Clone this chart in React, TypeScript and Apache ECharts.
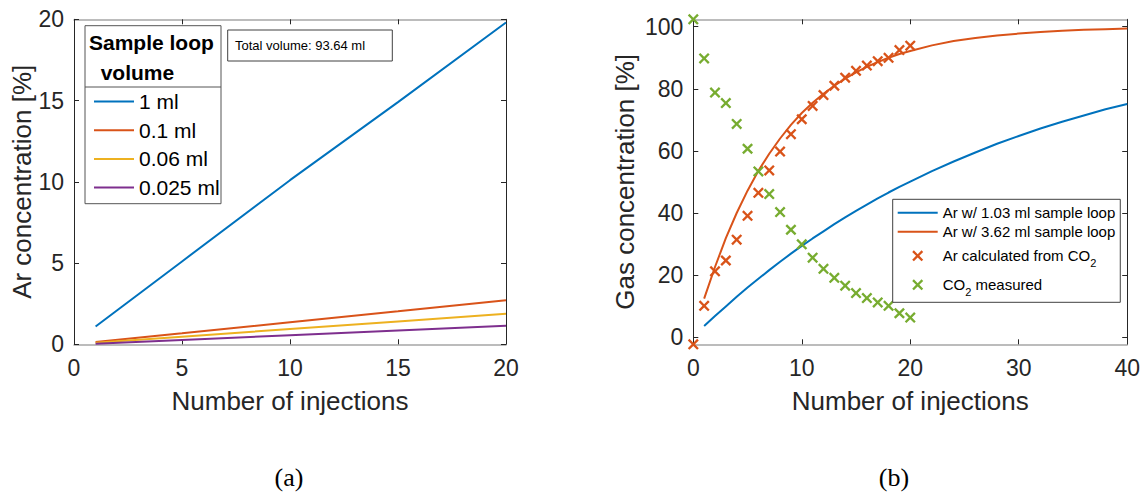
import React, { useEffect, useRef } from 'react';
import * as echarts from 'echarts';

// ---------- data ----------
const leftInjections = [1, 5, 10, 15, 20];
const loop1ml = [1.1, 5.1, 10.1, 14.9, 19.8];
const loop01ml = [0.14, 0.68, 1.36, 2.03, 2.71];
const loop006ml = [0.09, 0.47, 0.94, 1.41, 1.88];
const loop0025ml = [0.04, 0.27, 0.56, 0.85, 1.14];

const curveInjections = [1, 2, 3, 4, 5, 6, 7, 8, 9, 10, 11, 12, 13, 14, 15, 16, 17, 18, 19, 20, 22, 24, 26, 28, 30, 32, 34, 36, 38, 40];
const ar103 = [3.6, 6.8, 9.9, 13.0, 16.0, 18.8, 21.6, 24.3, 26.9, 29.4, 31.8, 34.1, 36.4, 38.6, 40.7, 42.7, 44.7, 46.6, 48.4, 50.1, 53.5, 56.6, 59.5, 62.3, 64.8, 67.2, 69.4, 71.4, 73.4, 75.1];
const ar362 = [12.4, 22.6, 31.9, 40.0, 47.2, 53.6, 59.1, 64.0, 68.4, 72.2, 75.5, 78.4, 81.0, 83.3, 85.3, 87.1, 88.6, 90.0, 91.2, 92.2, 94.0, 95.4, 96.4, 97.2, 97.8, 98.3, 98.7, 99.0, 99.2, 99.4];

const measuredInjections = [0, 1, 2, 3, 4, 5, 6, 7, 8, 9, 10, 11, 12, 13, 14, 15, 16, 17, 18, 19, 20];
const arFromCO2 = [-2.3, 10.1, 21.2, 24.7, 31.4, 39.1, 46.5, 53.7, 59.8, 65.4, 70.2, 74.5, 78.0, 81.0, 83.6, 85.8, 87.5, 88.9, 90.0, 92.5, 93.9];
const co2Measured = [102.4, 89.8, 78.8, 75.4, 68.7, 60.7, 53.4, 46.1, 40.3, 34.6, 29.9, 25.6, 22.0, 19.1, 16.6, 14.2, 12.6, 11.2, 10.1, 7.7, 6.3];

const leftLegendNames = ['1 ml', '0.1 ml', '0.06 ml', '0.025 ml'];
const rightLineNames = ['Ar w/ 1.03 ml sample loop', 'Ar w/ 3.62 ml sample loop'];
const rightMarkerNames = ['Ar calculated from CO2', 'CO2 measured'];
const rightYTicks = [0, 20, 40, 60, 80, 100];

// ---------- styles ----------
const FONT = '"Liberation Sans", Arial, Helvetica, sans-serif';
const TEXT = '#262626';
const BLUE = '#0072BD';
const ORANGE = '#D95319';
const YELLOW = '#EDB120';
const PURPLE = '#7E2F8E';
const GREEN = '#77AC30';
const HLINE = '#a6a6a6';
const XMARK = 'path://M0,1.5L1.5,0L5,3.5L8.5,0L10,1.5L6.5,5L10,8.5L8.5,10L5,6.5L1.5,10L0,8.5L3.5,5Z';

const pairs = (xs: number[], ys: number[]) => xs.map((x, i) => [x, ys[i]]);

function xAxisDef(grid: number, max: number, interval: number, top: boolean) {
  return {
    type: 'value', gridIndex: grid, min: 0, max, interval,
    position: top ? 'top' : 'bottom',
    axisLine: { show: true, onZero: false, lineStyle: { color: HLINE, width: 1.5 } },
    axisTick: { show: true, inside: true, length: 5, lineStyle: { color: TEXT, width: 1 } },
    axisLabel: top ? { show: false } : { show: true, color: TEXT, fontSize: 23, fontFamily: FONT, margin: 12 },
    splitLine: { show: false },
    name: top ? '' : 'Number of injections',
    nameLocation: 'middle', nameGap: 44,
    nameTextStyle: { color: TEXT, fontSize: 26, fontFamily: FONT },
  };
}

function yAxisDef(grid: number, min: number, max: number, right: boolean, name: string, nameGap: number, interval?: number, custom?: number[]) {
  const a: any = {
    type: 'value', gridIndex: grid, min, max,
    position: right ? 'right' : 'left',
    axisLine: { show: true, onZero: false, lineStyle: { color: TEXT, width: 1 } },
    axisTick: { show: true, inside: true, length: 5, lineStyle: { color: TEXT, width: 1 } },
    axisLabel: right ? { show: false } : { show: true, color: TEXT, fontSize: 23, fontFamily: FONT, margin: 10 },
    splitLine: { show: false },
    name: right ? '' : name,
    nameLocation: 'middle', nameGap,
    nameRotate: 90,
    nameTextStyle: { color: TEXT, fontSize: 26, fontFamily: FONT },
  };
  if (interval !== undefined) a.interval = interval;
  if (custom) {
    a.axisTick.customValues = custom;
    if (!right) a.axisLabel.customValues = custom;
  }
  return a;
}

export default function App() {
  const ref = useRef<HTMLDivElement>(null);
  useEffect(() => {
    if (!ref.current) return;
    const chart = echarts.init(ref.current, undefined, { renderer: 'svg' });
    const lineSeries = (name: string, color: string, xs: number[], ys: number[], axis: number) => ({
      name, type: 'line', xAxisIndex: axis, yAxisIndex: axis,
      data: pairs(xs, ys), symbol: 'none', showSymbol: false, smooth: false,
      lineStyle: { color, width: 2 }, itemStyle: { color }, z: 2,
    });
    const scatterSeries = (name: string, color: string, xs: number[], ys: number[]) => ({
      name, type: 'scatter', xAxisIndex: 2, yAxisIndex: 2,
      data: pairs(xs, ys), symbol: XMARK, symbolSize: 11, clip: false,
      itemStyle: { color, opacity: 1 }, z: 3,
    });
    const lineLegendItem = (name: string) => ({ name, itemStyle: { opacity: 0 } });
    const option: any = {
      animation: false,
      backgroundColor: '#ffffff',
      grid: [
        { left: 74, top: 19.3, width: 432, height: 325 },
        { left: 693.3, top: 19.3, width: 434, height: 325 },
      ],
      xAxis: [
        xAxisDef(0, 20, 5, false),
        xAxisDef(0, 20, 5, true),
        xAxisDef(1, 40, 10, false),
        xAxisDef(1, 40, 10, true),
      ],
      yAxis: [
        yAxisDef(0, 0, 20, false, 'Ar concentration [%]', 39, 5),
        yAxisDef(0, 0, 20, true, '', 0, 5),
        yAxisDef(1, -2.3, 102.4, false, 'Gas concentration [%]', 55, undefined, rightYTicks),
        yAxisDef(1, -2.3, 102.4, true, '', 0, undefined, rightYTicks),
      ],
      legend: [
        {
          data: leftLegendNames.map(lineLegendItem), orient: 'vertical', left: 93, top: 91, padding: 0,
          itemWidth: 40, itemHeight: 14, itemGap: 7.7, selectedMode: false, z: 6,
          textStyle: { color: '#000', fontSize: 21, fontFamily: FONT },
        },
        {
          data: [...rightLineNames.map(lineLegendItem), ...rightMarkerNames],
          orient: 'vertical', left: 892.7, top: 199.3,
          padding: [6, 5, 5, 4], borderColor: '#404040', borderWidth: 1, backgroundColor: '#ffffff',
          itemWidth: 40, itemHeight: 11, itemGap: 4, selectedMode: false, z: 6,
          formatter: (n: string) => n.replace('CO2', 'CO{sub|2}'),
          textStyle: {
            color: '#000', fontSize: 15, fontFamily: FONT,
            rich: { sub: { fontSize: 11, lineHeight: 8, fontFamily: FONT, color: '#000', padding: [14, 0, 0, 0] } },
          },
        },
      ],
      graphic: [
        { type: 'rect', z: 5, shape: { x: 85, y: 25.7, width: 136, height: 178 }, style: { fill: '#ffffff', stroke: '#555555', lineWidth: 1 } },
        { type: 'line', z: 5, shape: { x1: 85, y1: 87, x2: 221, y2: 87 }, style: { stroke: '#555555', lineWidth: 1 } },
        {
          type: 'text', z: 7, x: 89, y: 27.5,
          style: { text: 'Sample loop\n  volume', fill: '#000', font: 'bold 21px ' + FONT, lineHeight: 30, textAlign: 'left', textVerticalAlign: 'top', verticalAlign: 'top' },
        },
        { type: 'rect', z: 5, shape: { x: 227.7, y: 30, width: 164.6, height: 31 }, style: { fill: '#ffffff', stroke: '#404040', lineWidth: 1 } },
        {
          type: 'text', z: 7, x: 235, y: 45.5,
          style: { text: 'Total volume: 93.64 ml', fill: '#000', font: '13px ' + FONT, textAlign: 'left', textVerticalAlign: 'middle', verticalAlign: 'middle' },
        },
        {
          type: 'text', z: 7, x: 289, y: 477,
          style: { text: '(a)', fill: '#000', font: '26px "Liberation Serif", "Times New Roman", serif', textAlign: 'center', align: 'center', textVerticalAlign: 'middle', verticalAlign: 'middle' },
        },
        {
          type: 'text', z: 7, x: 894, y: 477,
          style: { text: '(b)', fill: '#000', font: '26px "Liberation Serif", "Times New Roman", serif', textAlign: 'center', align: 'center', textVerticalAlign: 'middle', verticalAlign: 'middle' },
        },
      ],
      series: [
        lineSeries('1 ml', BLUE, leftInjections, loop1ml, 0),
        lineSeries('0.1 ml', ORANGE, leftInjections, loop01ml, 0),
        lineSeries('0.06 ml', YELLOW, leftInjections, loop006ml, 0),
        lineSeries('0.025 ml', PURPLE, leftInjections, loop0025ml, 0),
        lineSeries('Ar w/ 1.03 ml sample loop', BLUE, curveInjections, ar103, 2),
        lineSeries('Ar w/ 3.62 ml sample loop', ORANGE, curveInjections, ar362, 2),
        scatterSeries('Ar calculated from CO2', ORANGE, measuredInjections, arFromCO2),
        scatterSeries('CO2 measured', GREEN, measuredInjections, co2Measured),
      ],
    };
    chart.setOption(option);
    return () => chart.dispose();
  }, []);
  return <div ref={ref} style={{ position: 'fixed', left: 0, top: 0, width: 1143, height: 493, background: '#fff' }} />;
}
